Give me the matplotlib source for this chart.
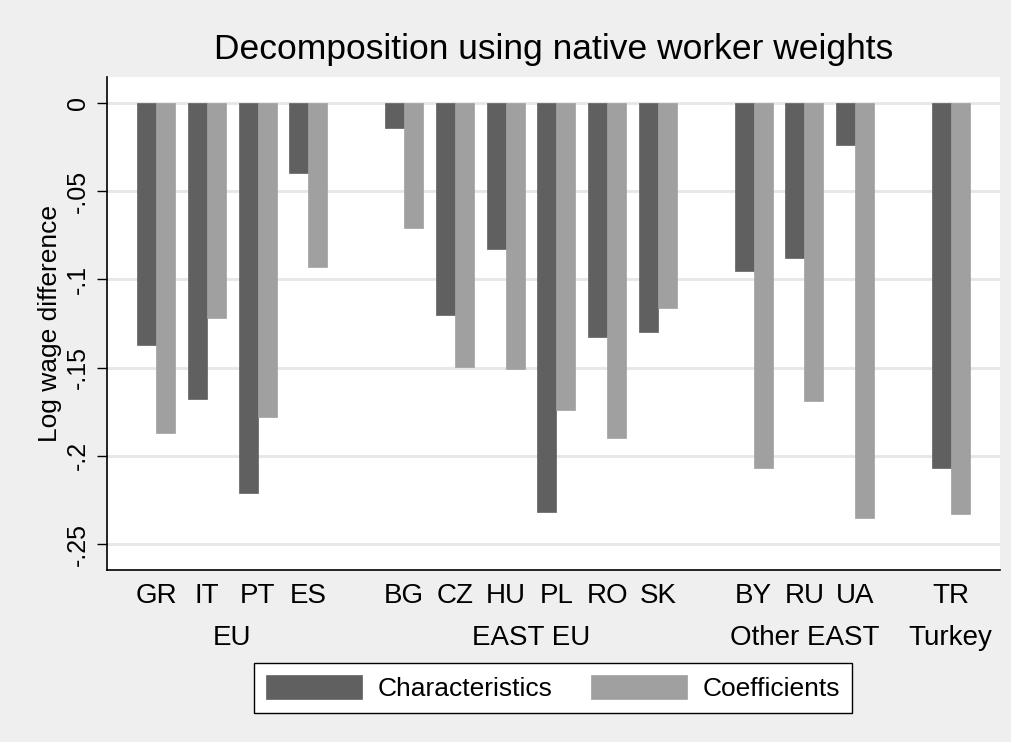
import matplotlib
matplotlib.use("Agg")
import matplotlib.pyplot as plt
import matplotlib.transforms as mtransforms
import numpy as np

# ---- data ----
groups = ["EU", "EAST EU", "Other EAST", "Turkey"]
countries = [["GR", "IT", "PT", "ES"],
             ["BG", "CZ", "HU", "PL", "RO", "SK"],
             ["BY", "RU", "UA"],
             ["TR"]]
characteristics = [-0.137, -0.168, -0.221, -0.040,
                   -0.014, -0.120, -0.083, -0.232, -0.1325, -0.130,
                   -0.095, -0.088, -0.024,
                   -0.207]
coefficients = [-0.187, -0.122, -0.178, -0.093,
                -0.071, -0.1495, -0.151, -0.174, -0.190, -0.116,
                -0.207, -0.169, -0.235,
                -0.233]
yticks = [0, -0.05, -0.1, -0.15, -0.2, -0.25]
ytick_labels = ["0", "-.05", "-.1", "-.15", "-.2", "-.25"]

# ---- layout ----
plt.rcParams['font.family'] = ['Liberation Sans', 'DejaVu Sans']
dark = "#606060"
light = "#a0a0a0"
bg = "#efefef"
fs = 19
fsx = 20

fig = plt.figure(figsize=(10.11, 7.42), dpi=100, facecolor=bg)
ax = fig.add_axes([107/1011, 1-570/742, (1000-107)/1011, (570-77)/742])
ax.set_facecolor("white")

gap = 0.88
positions = []
labels = []
group_centers = []
x = 0.0
for gi, clist in enumerate(countries):
    start = x
    for c in clist:
        positions.append(x)
        labels.append(c)
        x += 1
    group_centers.append((start + x - 1) / 2)
    x += gap
positions = np.array(positions)

w = 0.374
ax.bar(positions - w/2, characteristics, width=w, color=dark, edgecolor=dark,
       linewidth=0.5, label="Characteristics", zorder=3)
ax.bar(positions + w/2, coefficients, width=w, color=light, edgecolor=light,
       linewidth=0.5, label="Coefficients", zorder=3)

ax.set_xlim(-0.965, 16.61)
ax.set_ylim(-0.2646, 0.0146)

ax.set_yticks(yticks)
ax.set_yticklabels(ytick_labels, rotation=90, va="center", fontsize=18)
ax.tick_params(axis="y", length=7, width=1, pad=5, colors="black")
ax.yaxis.grid(True, color="#e6e6e6", linewidth=2, zorder=0)
ax.set_axisbelow(True)

ax.set_xticks([])
trans = mtransforms.blended_transform_factory(ax.transData, ax.transAxes)
for p, lab in zip(positions, labels):
    ax.text(p, -0.053, lab, transform=trans, ha="center", va="center", fontsize=fsx)
for gc, g in zip(group_centers, groups):
    ax.text(gc, -0.138, g, transform=trans, ha="center", va="center", fontsize=fsx)

for s in ["top", "right"]:
    ax.spines[s].set_visible(False)
for s in ["left", "bottom"]:
    ax.spines[s].set_color("black")
    ax.spines[s].set_linewidth(1.2)

ax.set_ylabel("Log wage difference", fontsize=fs, labelpad=3)

fig.text(553.5/1011, 1-50/742, "Decomposition using native worker weights",
         ha="center", va="center", fontsize=25.5)

leg = fig.legend(loc="center", bbox_to_anchor=(553/1011, 1-688/742), ncol=2,
                 fontsize=fs, frameon=True, fancybox=False, shadow=False,
                 handlelength=3.65, handleheight=1.05, handletextpad=0.6,
                 columnspacing=1.45, borderpad=0.45, borderaxespad=0)
leg.get_frame().set_edgecolor("black")
leg.get_frame().set_linewidth(1.0)
leg.get_frame().set_facecolor("white")
leg.get_frame().set_alpha(1)

fig.savefig("out.png", dpi=100, facecolor=bg)
